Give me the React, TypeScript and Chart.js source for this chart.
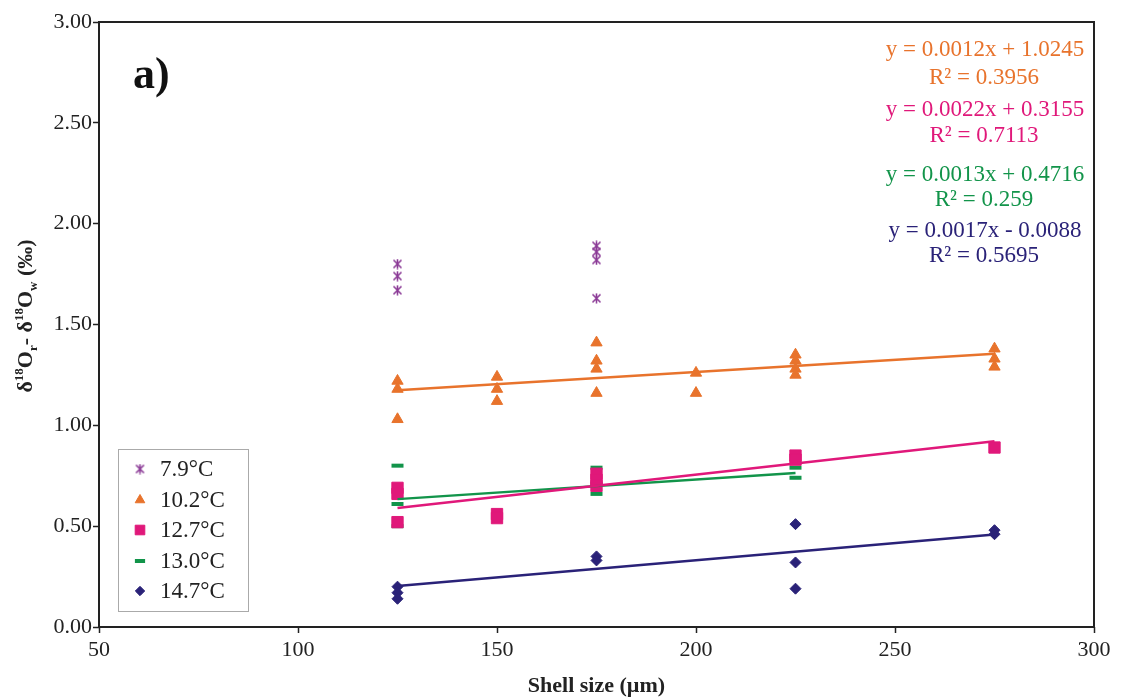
import React, { useEffect, useRef } from 'react';
import { Chart, registerables } from 'chart.js';
import { drawPoint } from 'chart.js/helpers';

Chart.register(...registerables);

// ---- data ----
const seriesLabels = ['7.9°C', '10.2°C', '12.7°C', '13.0°C', '14.7°C'];
const seriesColors = ['#8B3A96', '#E8732C', '#E0187A', '#12944A', '#2A2278'];

const x79 = [125, 125, 125, 175, 175, 175, 175];
const y79 = [1.80, 1.74, 1.67, 1.89, 1.86, 1.82, 1.63];

const x102 = [125, 125, 125, 150, 150, 150, 175, 175, 175, 175, 200, 200, 225, 225, 225, 225, 275, 275, 275];
const y102 = [1.22, 1.18, 1.03, 1.24, 1.18, 1.12, 1.41, 1.32, 1.28, 1.16, 1.26, 1.16, 1.35, 1.32, 1.28, 1.25, 1.38, 1.33, 1.29];

const x127 = [125, 125, 125, 150, 150, 175, 175, 175, 225, 225, 275];
const y127 = [0.69, 0.66, 0.52, 0.56, 0.54, 0.76, 0.73, 0.70, 0.85, 0.83, 0.89];

const x130 = [125, 125, 125, 175, 175, 175, 225, 225];
const y130 = [0.80, 0.61, 0.50, 0.79, 0.71, 0.66, 0.79, 0.74];

const x147 = [125, 125, 125, 175, 175, 225, 225, 225, 275, 275];
const y147 = [0.20, 0.17, 0.14, 0.35, 0.33, 0.51, 0.32, 0.19, 0.48, 0.46];

// trend lines (series index, slope, intercept, R²)
const trendSeries = [1, 2, 3, 4];
const trendSlopes = [0.0012, 0.0022, 0.0013, 0.0017];
const trendIntercepts = [1.0245, 0.3155, 0.4716, -0.0088];
const trendR2 = ['0.3956', '0.7113', '0.259', '0.5695'];

const xTicks = [50, 100, 150, 200, 250, 300];
const yTicks = [0, 0.5, 1, 1.5, 2, 2.5, 3];

const FONT = '"Liberation Serif", "Times New Roman", serif';

function makeAsterisk(color: string) {
  const c = document.createElement('canvas');
  c.width = 11;
  c.height = 11;
  const ctx = c.getContext('2d')!;
  ctx.strokeStyle = color;
  ctx.lineWidth = 1.6;
  ctx.beginPath();
  ctx.moveTo(1.5, 1.5); ctx.lineTo(9.5, 9.5);
  ctx.moveTo(9.5, 1.5); ctx.lineTo(1.5, 9.5);
  ctx.moveTo(5.5, 0.5); ctx.lineTo(5.5, 10.5);
  ctx.stroke();
  return c;
}

export default function App() {
  const ref = useRef<HTMLCanvasElement | null>(null);

  useEffect(() => {
    document.body.style.margin = '0';
    const canvas = ref.current!;
    const asterisk = makeAsterisk(seriesColors[0]);

    const xs = [x79, x102, x127, x130, x147];
    const ys = [y79, y102, y127, y130, y147];
    const styles: any[] = [
      { pointStyle: asterisk, radius: 5, borderWidth: 0 },
      { pointStyle: 'triangle', radius: 6.5, borderWidth: 1 },
      { pointStyle: 'rect', radius: 8, borderWidth: 1 },
      { pointStyle: 'line', radius: 6, borderWidth: 4 },
      { pointStyle: 'rectRot', radius: 5.5, borderWidth: 1 },
    ];

    const scatterSets = xs.map((xa, i) => ({
      type: 'scatter' as const,
      label: seriesLabels[i],
      data: xa.map((x, j) => ({ x, y: ys[i][j] })),
      backgroundColor: seriesColors[i],
      borderColor: seriesColors[i],
      pointStyle: styles[i].pointStyle,
      pointRadius: styles[i].radius,
      pointBorderWidth: styles[i].borderWidth,
      pointHoverRadius: styles[i].radius,
      order: 2,
    }));

    const trendSets = trendSeries.map((si, k) => {
      const xmin = Math.min(...xs[si]);
      const xmax = Math.max(...xs[si]);
      return {
        type: 'line' as const,
        label: 'trend ' + seriesLabels[si],
        data: [xmin, xmax].map((x) => ({ x, y: trendSlopes[k] * x + trendIntercepts[k] })),
        borderColor: seriesColors[si],
        backgroundColor: seriesColors[si],
        borderWidth: 2.5,
        pointRadius: 0,
        fill: false,
        order: 1,
      };
    });

    const overlay = {
      id: 'overlay',
      beforeDraw(chart: any) {
        const ctx = chart.ctx;
        ctx.save();
        ctx.fillStyle = '#ffffff';
        ctx.fillRect(0, 0, chart.width, chart.height);
        ctx.restore();
      },
      afterDraw(chart: any) {
        const ctx = chart.ctx;
        const a = chart.chartArea;
        ctx.save();
        // frame
        ctx.strokeStyle = '#222';
        ctx.lineWidth = 2;
        ctx.strokeRect(a.left, a.top, a.right - a.left, a.bottom - a.top);

        // panel label
        ctx.fillStyle = '#111';
        ctx.font = `bold 44px ${FONT}`;
        ctx.textAlign = 'left';
        ctx.textBaseline = 'alphabetic';
        ctx.fillText('a)', 133, 88);

        // equations
        ctx.font = `23px ${FONT}`;
        ctx.textAlign = 'center';
        ctx.textBaseline = 'middle';
        const eqY = [[50, 78], [110, 136], [175, 200], [231, 256]];
        trendSeries.forEach((si, k) => {
          ctx.fillStyle = seriesColors[si];
          const b = trendIntercepts[k];
          const eq = `y = ${trendSlopes[k].toFixed(4)}x ${b < 0 ? '-' : '+'} ${Math.abs(b).toFixed(4)}`;
          ctx.fillText(eq, 985, eqY[k][0]);
          ctx.fillText(`R² = ${trendR2[k]}`, 984, eqY[k][1]);
        });

        // legend box
        ctx.fillStyle = '#fff';
        ctx.fillRect(118, 449, 130, 162);
        ctx.strokeStyle = '#aaa';
        ctx.lineWidth = 1;
        ctx.strokeRect(118.5, 449.5, 130, 162);
        const rowY = [469, 500, 530, 561, 591];
        seriesLabels.forEach((lab, i) => {
          const st = styles[i];
          ctx.fillStyle = seriesColors[i];
          ctx.strokeStyle = seriesColors[i];
          ctx.lineWidth = st.borderWidth;
          drawPoint(ctx, { pointStyle: st.pointStyle, rotation: 0, radius: st.radius * 0.85, borderWidth: st.borderWidth }, 140, rowY[i]);
          ctx.fillStyle = '#222';
          ctx.font = `23px ${FONT}`;
          ctx.textAlign = 'left';
          ctx.textBaseline = 'middle';
          ctx.fillText(lab, 160, rowY[i] + 1);
        });

        // x title
        ctx.fillStyle = '#222';
        ctx.font = `bold 22px ${FONT}`;
        ctx.textAlign = 'center';
        ctx.textBaseline = 'middle';
        ctx.fillText('Shell size (µm)', (a.left + a.right) / 2, 686);

        // y title
        const segs = [
          { t: 'δ', f: 22, dy: 0 },
          { t: '18', f: 13, dy: -9 },
          { t: 'O', f: 22, dy: 0 },
          { t: 'r', f: 13, dy: 5 },
          { t: '- δ', f: 22, dy: 0 },
          { t: '18', f: 13, dy: -9 },
          { t: 'O', f: 22, dy: 0 },
          { t: 'w', f: 13, dy: 5 },
          { t: ' (‰)', f: 22, dy: 0 },
        ];
        let total = 0;
        segs.forEach((s) => {
          ctx.font = `bold ${s.f}px ${FONT}`;
          total += ctx.measureText(s.t).width;
        });
        ctx.translate(25, 316);
        ctx.rotate(-Math.PI / 2);
        ctx.textAlign = 'left';
        ctx.textBaseline = 'alphabetic';
        let cx = -total / 2;
        segs.forEach((s) => {
          ctx.font = `bold ${s.f}px ${FONT}`;
          ctx.fillText(s.t, cx, 7 + s.dy);
          cx += ctx.measureText(s.t).width;
        });
        ctx.restore();
      },
    };

    const chart = new Chart(canvas, {
      data: { datasets: [...trendSets, ...scatterSets] as any },
      options: {
        responsive: false,
        animation: false,
        layout: { padding: { left: 0, top: 22, right: 28, bottom: 0 } },
        plugins: { legend: { display: false }, tooltip: { enabled: false } },
        scales: {
          x: {
            type: 'linear',
            min: 50,
            max: 300,
            afterBuildTicks: (s: any) => { s.ticks = xTicks.map((v) => ({ value: v })); },
            afterFit: (s: any) => { s.height = 71; },
            border: { display: false },
            grid: { drawOnChartArea: false, drawTicks: true, tickLength: 6, tickColor: '#222', tickWidth: 1.5 },
            ticks: { color: '#222', font: { family: FONT, size: 22 }, padding: 4, callback: (v: any) => String(v) },
          },
          y: {
            type: 'linear',
            min: 0,
            max: 3,
            afterBuildTicks: (s: any) => { s.ticks = yTicks.map((v) => ({ value: v })); },
            afterFit: (s: any) => { s.width = 99; },
            border: { display: false },
            grid: { drawOnChartArea: false, drawTicks: true, tickLength: 6, tickColor: '#222', tickWidth: 1.5 },
            ticks: { color: '#222', font: { family: FONT, size: 22 }, padding: 1, callback: (v: any) => Number(v).toFixed(2) },
          },
        },
      },
      plugins: [overlay],
    });
    return () => chart.destroy();
  }, []);

  return (
    <div style={{ width: 1122, height: 698 }}>
      <canvas ref={ref} width={1122} height={698} style={{ display: 'block' }} />
    </div>
  );
}
